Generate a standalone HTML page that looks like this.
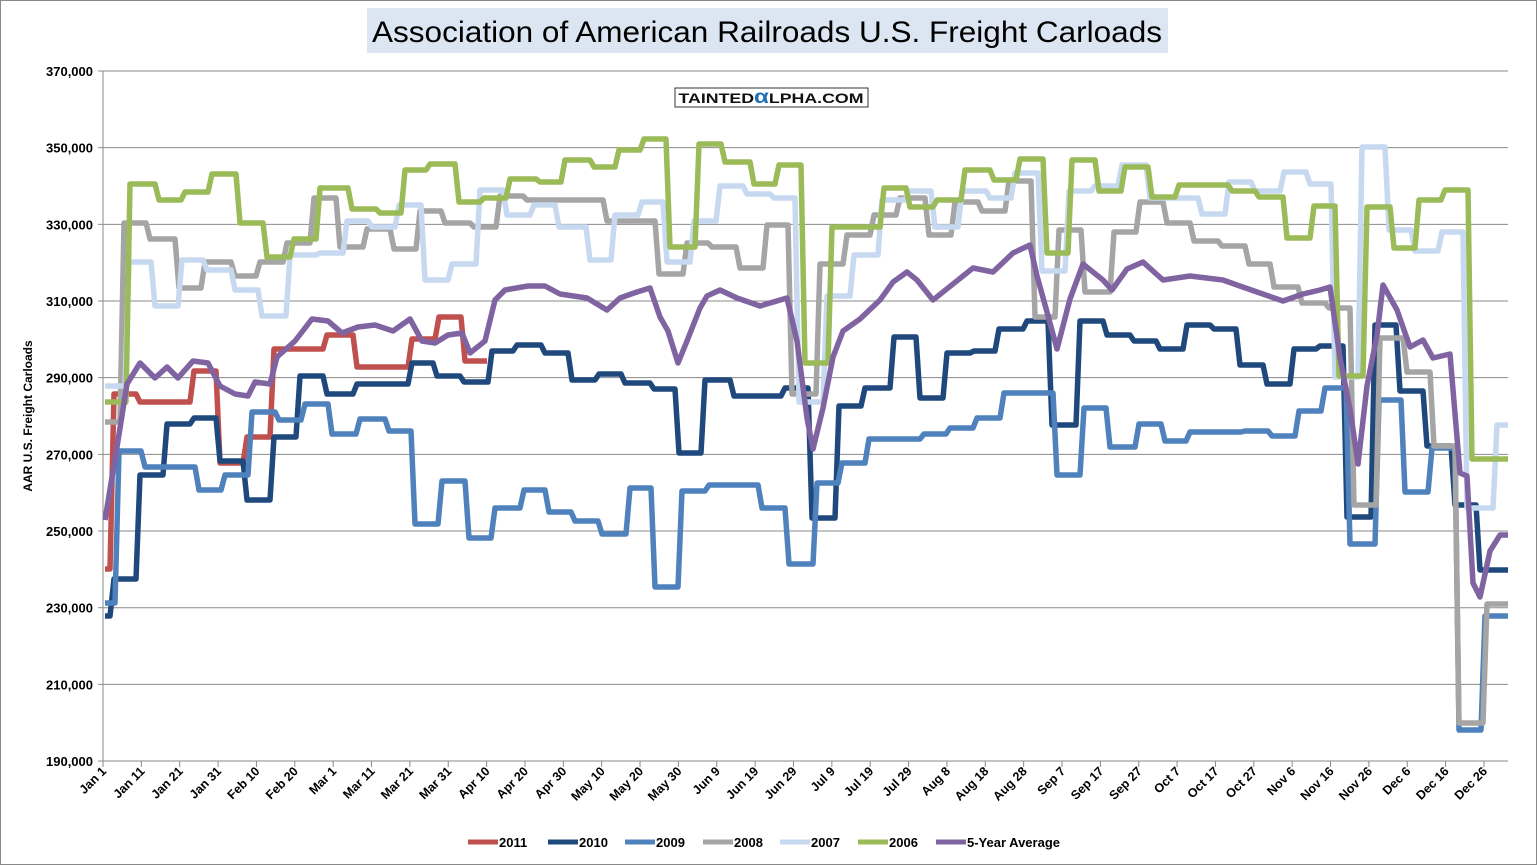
<!DOCTYPE html>
<html><head><meta charset="utf-8"><style>
html,body{margin:0;padding:0;background:#fff;}
svg{display:block;font-family:"Liberation Sans",Arial,sans-serif;}
</style></head><body>
<svg id="c" width="1537" height="865" viewBox="0 0 1537 865" xmlns="http://www.w3.org/2000/svg">
<rect x="0.5" y="0.5" width="1536" height="864" fill="#fff" stroke="#888"/>
<rect x="367" y="8" width="801" height="45" fill="#DCE6F2"/>
<text x="767" y="42" text-anchor="middle" font-size="30" textLength="790" lengthAdjust="spacingAndGlyphs" fill="#000">Association of American Railroads U.S. Freight Carloads</text>
<g id="grid"></g>
<rect x="675" y="88" width="193" height="19" fill="#fff" stroke="#333"/>
<text x="771" y="103" text-anchor="middle" font-size="14" font-weight="bold" textLength="185" lengthAdjust="spacingAndGlyphs" fill="#111">TAINTED<tspan fill="#1f6fb5" font-size="19">α</tspan>LPHA.COM</text>
<text transform="translate(32,416) rotate(-90)" text-anchor="middle" font-size="12" font-weight="bold">AAR U.S. Freight Carloads</text>
<g id="series" fill="none" stroke-width="5.5" stroke-linejoin="round"></g>
<g id="legend" font-size="13" font-weight="bold"></g>
</svg>
<script>
var NS="http://www.w3.org/2000/svg";
function el(p,t,a,txt){var e=document.createElementNS(NS,t);for(var k in a)e.setAttribute(k,a[k]);if(txt)e.textContent=txt;p.appendChild(e);return e;}
var g=document.getElementById('grid');
var labs=["370,000","350,000","330,000","310,000","290,000","270,000","250,000","230,000","210,000","190,000"];
for(var i=0;i<10;i++){var y=71+i*76.67;
 el(g,'line',{x1:103,x2:1508,y1:y,y2:y,stroke:'#8a8a8a','stroke-width':1});
 el(g,'line',{x1:98,x2:103,y1:y,y2:y,stroke:'#8a8a8a','stroke-width':1});
 el(g,'text',{x:93,y:y+5,'text-anchor':'end','font-size':13,'font-weight':'bold'},labs[i]);}
el(g,'line',{x1:103,x2:103,y1:71,y2:761,stroke:'#8a8a8a','stroke-width':1});
var xl=["Jan 1","Jan 11","Jan 21","Jan 31","Feb 10","Feb 20","Mar 1","Mar 11","Mar 21","Mar 31","Apr 10","Apr 20","Apr 30","May 10","May 20","May 30","Jun 9","Jun 19","Jun 29","Jul 9","Jul 19","Jul 29","Aug 8","Aug 18","Aug 28","Sep 7","Sep 17","Sep 27","Oct 7","Oct 17","Oct 27","Nov 6","Nov 16","Nov 26","Dec 6","Dec 16","Dec 26"];
for(var i=0;i<xl.length;i++){var x=103+i*38.36;
 el(g,'line',{x1:x,x2:x,y1:761,y2:767,stroke:'#8a8a8a','stroke-width':1});
 el(g,'text',{transform:'translate('+(x+4)+',772) rotate(-45)','text-anchor':'end','font-size':12.5,'font-weight':'bold'},xl[i]);}
function step(pts,end){var d='M'+pts[0][0]+','+pts[0][1];
 for(var i=1;i<pts.length;i++){d+=' L'+(pts[i][0]-2)+','+pts[i-1][1]+' L'+(pts[i][0]+2)+','+pts[i][1];}
 d+=' L'+end+','+pts[pts.length-1][1];return d;}
function poly(pts){return 'M'+pts.map(function(p){return p[0]+','+p[1]}).join(' L');}
var red=[[105,569],[112,394],[138,402],[192,371],[218,463],[245,437],[272,349],[325,335],[355,367],[410,339],[437,317],[463,361]];
var dblue=[[105,616],[112,579],[138,475],[165,424],[192,418],[218,461],[245,500],[272,437],[298,376],[325,394],[355,384],[410,363],[435,376],[462,382],[490,351],[515,345],[543,353],[570,380],[597,374],[623,383],[652,389],[677,453],[703,380],[732,396],[783,388],[810,518],[837,406],[863,388],[892,337],[918,398],[945,353],[972,351],[997,329],[1025,321],[1050,425],[1078,321],[1105,335],[1132,341],[1158,349],[1185,325],[1212,329],[1238,365],[1265,384],[1292,349],[1318,346],[1345,517],[1373,325],[1398,391],[1425,446],[1453,505],[1478,570]];
var mblue=[[105,603],[117,451],[143,467],[197,490],[223,475],[250,412],[277,420],[303,404],[330,434],[358,419],[387,431],[413,524],[440,481],[467,538],[493,508],[522,490],[547,512],[573,521],[600,534],[628,488],[653,587],[680,491],[707,485],[760,508],[787,564],[815,483],[840,463],[867,439],[922,434],[948,428],[975,418],[1002,393],[1055,475],[1082,408],[1108,447],[1137,424],[1163,441],[1188,432],[1243,431],[1270,436],[1297,411],[1323,388],[1348,544],[1377,400],[1403,492],[1430,448],[1457,730],[1483,616]];
var gray=[[105,422],[122,223],[148,239],[177,288],[203,262],[233,276],[258,262],[285,243],[312,198],[338,247],[365,229],[392,249],[418,211],[443,223],[472,227],[498,196],[525,200],[605,221],[657,274],[685,243],[710,247],[738,268],[765,225],[790,394],[818,264],[845,235],[872,215],[898,198],[927,235],[953,202],[980,211],[1007,181],[1033,317],[1057,230],[1083,292],[1112,232],[1138,202],[1165,223],[1192,241],[1220,246],[1247,264],[1272,287],[1300,303],[1327,308],[1352,505],[1378,338],[1405,372],[1432,446],[1457,723],[1485,604]];
var lblue=[[105,386],[127,262],[153,306],[180,260],[205,270],[233,290],[260,316],[288,255],[318,253],[345,221],[370,227],[397,205],[423,280],[450,264],[478,190],[505,215],[532,205],[557,227],[588,260],[613,215],[640,202],[665,262],[692,221],[718,186],[745,194],[772,198],[797,402],[825,296],[852,255],[880,200],[907,191],[933,227],[960,191],[988,198],[1013,173],[1040,271],[1067,191],[1093,186],[1120,165],[1148,198],[1200,214],[1227,182],[1253,191],[1282,172],[1308,184],[1333,377],[1360,147],[1387,230],[1413,251],[1440,232],[1465,508],[1495,425]];
var green=[[105,402],[128,184],[157,200],[183,192],[210,174],[238,223],[265,257],[292,239],[318,188],[350,209],[378,213],[403,170],[428,164],[457,202],[482,198],[508,179],[538,182],[563,160],[592,167],[617,150],[642,139],[668,247],[697,144],[723,162],[752,184],[777,165],[803,363],[830,227],[882,188],[908,207],[935,200],[963,170],[992,180],[1018,159],[1045,253],[1070,160],[1097,191],[1123,167],[1150,197],[1177,185],[1230,191],[1257,197],[1285,238],[1312,206],[1337,376],[1365,207],[1392,248],[1417,200],[1443,190],[1470,459]];
var purple=[[105,520],[117,447],[127,384],[140,363],[155,378],[167,367],[178,378],[193,361],[208,363],[220,386],[235,394],[248,396],[255,382],[270,384],[277,357],[295,341],[312,319],[328,321],[342,333],[358,327],[375,325],[393,331],[410,319],[422,341],[435,343],[448,335],[462,333],[470,353],[485,341],[495,300],[505,290],[528,286],[545,286],[560,294],[587,298],[607,310],[620,298],[637,292],[650,288],[660,317],[668,331],[678,363],[687,341],[700,308],[707,296],[720,290],[737,298],[760,306],[787,298],[797,341],[807,418],[813,449],[823,408],[833,357],[843,331],[860,319],[880,300],[893,282],[907,272],[917,280],[933,300],[953,284],[973,268],[993,272],[1013,253],[1030,245],[1037,276],[1047,312],[1057,349],[1070,299],[1083,264],[1103,280],[1112,290],[1127,269],[1143,262],[1163,280],[1190,276],[1223,280],[1237,285],[1257,292],[1283,301],[1303,294],[1320,290],[1330,287],[1340,358],[1350,409],[1358,464],[1367,386],[1377,335],[1383,285],[1397,310],[1410,347],[1423,340],[1433,358],[1450,354],[1460,473],[1467,476],[1473,583],[1480,597],[1490,551],[1500,535],[1508,535]];
var s=document.getElementById('series');
el(s,'path',{d:step(red,487),stroke:'#C0504D'});
el(s,'path',{d:step(dblue,1508),stroke:'#1F497D'});
el(s,'path',{d:step(mblue,1508),stroke:'#4F81BD'});
el(s,'path',{d:step(gray,1508),stroke:'#A5A5A5'});
el(s,'path',{d:step(lblue,1508),stroke:'#C6D9F1'});
el(s,'path',{d:step(green,1508),stroke:'#9BBB59'});
el(s,'path',{d:poly(purple),stroke:'#8064A2'});
var L=document.getElementById('legend');
var items=[[468,'#C0504D','2011'],[548,'#1F497D','2010'],[625,'#4F81BD','2009'],[703,'#A5A5A5','2008'],[780,'#C6D9F1','2007'],[858,'#9BBB59','2006'],[936,'#8064A2','5-Year Average']];
items.forEach(function(it){el(L,'line',{x1:it[0],x2:it[0]+30,y1:842,y2:842,stroke:it[1],'stroke-width':5});el(L,'text',{x:it[0]+31,y:847},it[2]);});
</script>
</body></html>
